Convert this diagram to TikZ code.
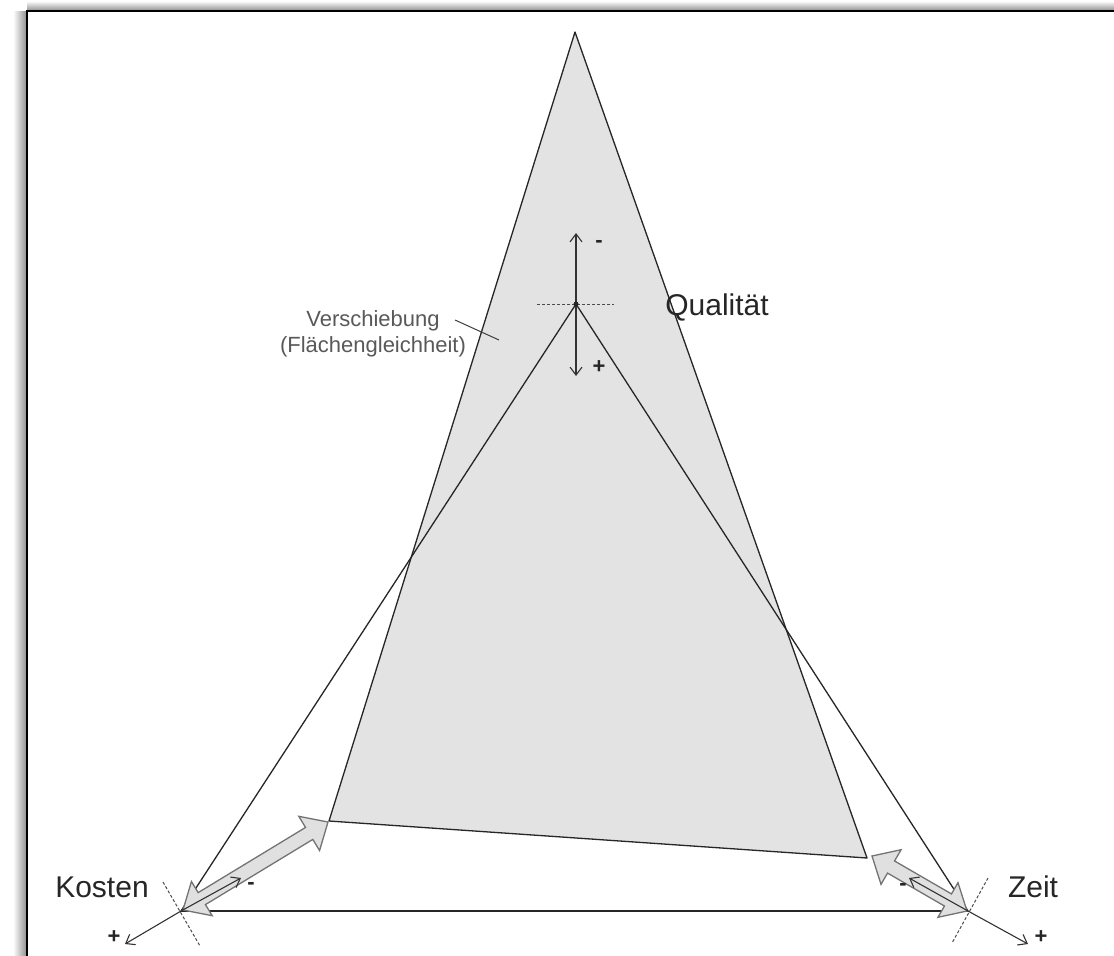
\documentclass[tikz,border=0pt]{standalone}
\usepackage{fontspec}
\setmainfont{Liberation Sans}
\usetikzlibrary{arrows.meta,calc}
\newcommand\fatarr[2]{%
  \coordinate (fa-h1) at ($(#1)!22pt!(#2)$);
  \coordinate (fa-h2) at ($(#2)!22pt!(#1)$);
  \filldraw[fatarrow] (#1)
    -- ($(fa-h1)!20pt!90:(#2)$) -- ($(fa-h1)!7pt!90:(#2)$)
    -- ($(fa-h2)!7pt!-90:(#1)$) -- ($(fa-h2)!20pt!-90:(#1)$)
    -- (#2)
    -- ($(fa-h2)!20pt!90:(#1)$) -- ($(fa-h2)!7pt!90:(#1)$)
    -- ($(fa-h1)!7pt!-90:(#2)$) -- ($(fa-h1)!20pt!-90:(#2)$)
    -- cycle;}
\begin{document}
\begin{tikzpicture}[x=1pt,y=-1pt,
  edge/.style={line width=1.3pt, draw=black!85},
  tarrow/.style={line width=1.1pt, draw=black!80, -{Straight Barb[length=8pt,width=12pt]}},
  tdarrow/.style={line width=1.1pt, draw=black!80, {Straight Barb[length=8pt,width=12pt]}-{Straight Barb[length=8pt,width=12pt]}},
  axisdash/.style={line width=1pt, draw=black!70, dash pattern=on 3pt off 2pt},
  fatarrow/.style={draw=black!55, fill=black!12, line width=1.3pt, line join=miter},
  biglabel/.style={font=\fontsize{30}{36}\selectfont, text=black!85, inner sep=0pt},
  smalllabel/.style={font=\fontsize{22}{26}\selectfont, text=black!65, inner sep=0pt, align=center},
  sign/.style={font=\fontsize{22}{26}\selectfont\bfseries, text=black!85, inner sep=0pt}]
\useasboundingbox (0,0) rectangle (1114,956);
\fill[white] (0,0) rectangle (1114,956);
% shadow and frame
\shade[left color=white, right color=black!45] (13,11) rectangle (27,956);
\shade[top color=white, bottom color=black!45] (27,1) rectangle (1114,11);
\draw[line width=2.2pt, black] (1120,11) -- (27,11) -- (27,962);

% coordinates
\coordinate (G1) at (575,32);
\coordinate (G2) at (329,821);
\coordinate (G3) at (867,858);
\coordinate (Q) at (576,304);
\coordinate (K) at (181,911);
\coordinate (Z) at (968,911);
\coordinate (FK1) at (183,910);
\coordinate (FK2) at (328,822);
\coordinate (FZ1) at (967,911);
\coordinate (FZ2) at (872,856);

% gray shifted triangle
\filldraw[fill=black!11, draw=black!85, line width=1.3pt, line join=round] (G1) -- (G2) -- (G3) -- cycle;

% original triangle
\draw[edge] (Q) -- (K);
\draw[edge] (Q) -- (Z);
\draw[edge] (K) -- (Z);

% fat double arrows
\fatarr{FK1}{FK2}
\fatarr{FZ1}{FZ2}

% dashed axes
\coordinate (KD1) at (163,882);
\coordinate (KD2) at (200,946);
\coordinate (ZD1) at (988,878);
\coordinate (ZD2) at (952,943);
\draw[axisdash] (KD1) -- (KD2);
\draw[axisdash] (ZD1) -- (ZD2);
\coordinate (QD1) at (537,304);
\coordinate (QD2) at (614,304);
\draw[axisdash] (QD1) -- (QD2);

% thin arrows
\coordinate (Kp) at (125,944);
\coordinate (Km) at (241,878);
\coordinate (Zp) at (1028,944);
\coordinate (Zm) at (909,878);
\coordinate (Qm) at (576,233);
\coordinate (Qp) at (576,376);
\draw[tarrow] (K) -- (Kp);
\draw[tarrow] (K) -- (Km);
\draw[tarrow] (Z) -- (Zp);
\draw[tarrow] (Z) -- (Zm);
\draw[tdarrow] (Qm) -- (Qp);
\fill[black!85] (Q) circle (2.5pt);

% signs
\node[sign] (sQm) at (599,244) {-};
\node[sign] (sQp) at (599,367) {+};
\node[sign] (sKp) at (114,937) {+};
\node[sign] (sKm) at (251,886) {-};
\node[sign] (sZp) at (1041,937) {+};
\node[sign] (sZm) at (903,887) {-};

% labels
\node[biglabel, anchor=base] (lQ) at (717,315) {Qualität};
\node[biglabel, anchor=base] (lK) at (102,897) {Kosten};
\node[biglabel, anchor=base] (lZ) at (1033,897) {Zeit};
\node[smalllabel] (lV) at (373,334) {Verschiebung\\(Flächengleichheit)};
\coordinate (V1) at (455,320);
\coordinate (V2) at (499,340);
\draw[line width=1pt, black!75] (V1) -- (V2);
\end{tikzpicture}
\end{document}
